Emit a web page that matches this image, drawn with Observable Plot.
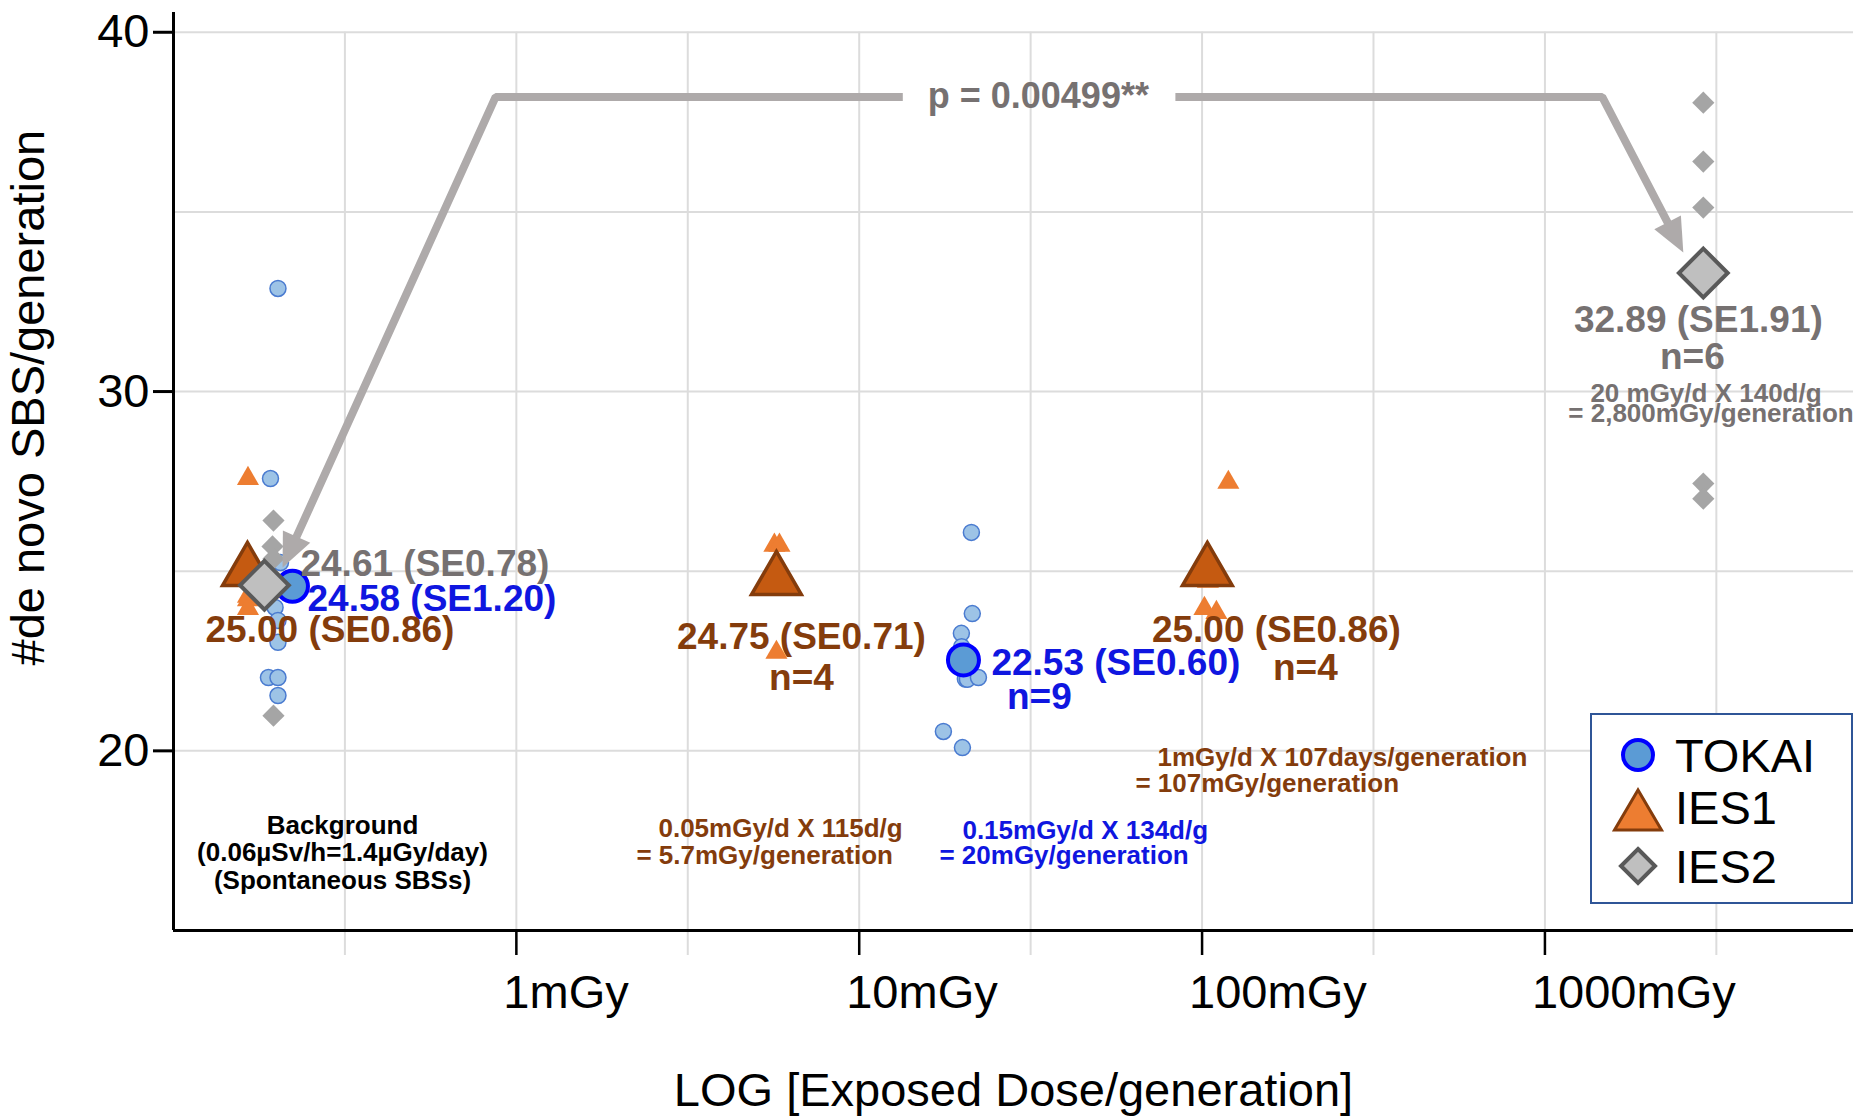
<!DOCTYPE html>
<html>
<head>
<meta charset="utf-8">
<script src="https://cdn.jsdelivr.net/npm/d3@7"></script>
<script src="https://cdn.jsdelivr.net/npm/@observablehq/plot@0.6"></script>
<style>
  html, body { margin: 0; padding: 0; background: #fff; }
  #wrap { position: relative; width: 1865px; height: 1117px; font-family: "Liberation Sans", Arial, sans-serif; }
  #legend { position: absolute; left: 1590px; top: 713px; width: 259px; height: 187px; border: 2px solid #2f5597; background: #fff; }
  #legend svg { display: block; }
</style>
</head>
<body>
<div id="wrap"></div>
<script>
// ---------------- data ----------------
// TOKAI individual lines (dose mGy/generation, SBS/generation)
const tokaiX = [0.2017, 0.1918, 0.2051, 0.1978, 0.2017, 0.2017, 0.1892, 0.2017, 0.2017,
                21.24, 21.37, 19.86, 19.9, 20.4, 20.68, 22.27, 17.60, 20.0];
const tokaiY = [32.87, 27.58, 25.24, 23.99, 23.63, 23.02, 22.04, 22.04, 21.54,
                26.08, 23.82, 23.27, 22.9, 22.0, 21.99, 22.04, 20.54, 20.09];
// IES1 individual lines
const ies1X = [0.1649, 0.1649, 0.1649, 0.1649, 5.657, 5.852, 5.735, 5.735, 119.3, 101.6, 110.1, 104];
const ies1Y = [27.58, 24.3, 24.2, 23.96, 25.72, 25.72, 24.8, 22.74, 27.47, 23.96, 23.85, 24.72];
// IES2 individual lines
const ies2X = [0.1957, 0.1944, 0.1957, 0.1957, 2897, 2897, 2897, 2897, 2897, 2897];
const ies2Y = [26.41, 25.69, 25.35, 20.98, 38.04, 36.40, 35.12, 33.32, 27.44, 27.02];
// group means
const tokaiMeanX = [0.2223, 20.14];
const tokaiMeanY = [24.58, 22.53];
const ies1MeanX = [0.1643, 5.735, 103.6];
const ies1MeanY = [25.00, 24.75, 25.00];
const ies2MeanX = [0.1842, 2897];
const ies2MeanY = [24.61, 33.3];
// axes
const xTickValues = [1, 10, 100, 1000];
const xTickLabels = ["1mGy", "10mGy", "100mGy", "1000mGy"];
const xGrid = [0.3162, 1, 3.162, 10, 31.62, 100, 316.2, 1000, 3162];
const yTickValues = [20, 30, 40];
const yGrid = [20, 25, 30, 35, 40];
const pText = "p = 0.00499**";

// ---------------- layout ----------------
const W = 1865, H = 1117;
const X0 = 173, X1 = 1853, YB = 930, YT = 12;
const xDomain = [0.1, Math.pow(10, 3.9)];
const yDomain = [15, 40.55];
const sx = Plot.scale({x: {type: "log", domain: xDomain, range: [X0, X1]}});
const sy = Plot.scale({y: {type: "linear", domain: yDomain, range: [YB, YT]}});

const FONT = "Liberation Sans, Arial, Helvetica, sans-serif";
const GRAY = "#767171", BLUE = "#0f16e0", BROWN = "#843c0c", BLACK = "#000000";
const ARROW = "#aeaaaa";

const pts = (xs, ys) => xs.map((x, i) => ({x, y: ys[i]}));
const tokai = pts(tokaiX, tokaiY), ies1 = pts(ies1X, ies1Y), ies2 = pts(ies2X, ies2Y);
const tokaiMean = pts(tokaiMeanX, tokaiMeanY), ies1Mean = pts(ies1MeanX, ies1MeanY), ies2Mean = pts(ies2MeanX, ies2MeanY);

// annotation placement (data coordinates)
const bracketY = 38.2;
const leftTip = [0.208, 25.10], leftCorner = [0.87, bracketY], gapLeft = 13.4;
const gapRight = 83.6, rightCorner = [1469, bracketY], rightTip = [2533, 33.87];
const HEAD = 34;
function headInfo(from, tip, back) {
  const ax = sx.apply(from[0]), ay = sy.apply(from[1]);
  const bx = sx.apply(tip[0]), by = sy.apply(tip[1]);
  const L = Math.hypot(bx - ax, by - ay), ux = (bx - ax) / L, uy = (by - ay) / L;
  return {
    base: [sx.invert(bx - ux * back), sy.invert(by - uy * back)],
    angle: Math.atan2(ux, -uy) * 180 / Math.PI
  };
}
const hl = headInfo(leftCorner, leftTip, HEAD - 5);
const hr = headInfo(rightCorner, rightTip, HEAD - 5);
const leftPath = [hl.base, leftCorner, [gapLeft, bracketY]];
const rightPath = [[gapRight, bracketY], rightCorner, hr.base];
const heads = [{x: leftTip[0], y: leftTip[1], a: hl.angle}, {x: rightTip[0], y: rightTip[1], a: hr.angle}];

const bigStart = [
  {t: "24.61 (SE0.78)", x: 0.2346, y: 25.20, c: GRAY},
  {t: "24.58 (SE1.20)", x: 0.2459, y: 24.21, c: BLUE},
  {t: "25.00 (SE0.86)", x: 0.1240, y: 23.35, c: BROWN},
  {t: "22.53 (SE0.60)", x: 24.30, y: 22.43, c: BLUE}
];
const bigMiddle = [
  {t: "24.75 (SE0.71)", x: 6.783, y: 23.17, c: BROWN},
  {t: "n=4", x: 6.783, y: 22.01, c: BROWN},
  {t: "n=9", x: 33.54, y: 21.49, c: BLUE},
  {t: "25.00 (SE0.86)", x: 164.7, y: 23.35, c: BROWN},
  {t: "n=4", x: 200.1, y: 22.29, c: BROWN},
  {t: "32.89 (SE1.91)", x: 2802, y: 31.99, c: GRAY},
  {t: "n=6", x: 2691, y: 30.95, c: GRAY}
];
const noteStart = [
  {t: "0.05mGy/d X 115d/g", x: 2.597, y: 17.83, c: BROWN},
  {t: "= 5.7mGy/generation", x: 2.240, y: 17.09, c: BROWN},
  {t: "0.15mGy/d X 134d/g", x: 20.0, y: 17.78, c: BLUE},
  {t: "= 20mGy/generation", x: 17.14, y: 17.09, c: BLUE},
  {t: "1mGy/d X 107days/generation", x: 74.1, y: 19.82, c: BROWN},
  {t: "= 107mGy/generation", x: 63.9, y: 19.09, c: BROWN},
  {t: "20 mGy/d X 140d/g", x: 1357, y: 29.95, c: GRAY},
  {t: "= 2,800mGy/generation", x: 1170, y: 29.38, c: GRAY}
];
const noteMiddle = [
  {t: "Background", x: 0.3111, y: 17.92, c: BLACK},
  {t: "(0.06µSv/h=1.4µGy/day)", x: 0.3111, y: 17.17, c: BLACK},
  {t: "(Spontaneous SBSs)", x: 0.3111, y: 16.39, c: BLACK}
];

const yBelow = sy.invert(955);
const xLeftTick = sx.invert(153);

const chart = Plot.plot({
  width: W, height: H,
  marginLeft: X0, marginRight: W - X1, marginTop: YT, marginBottom: H - YB,
  style: {fontFamily: FONT, background: "#fff", overflow: "visible"},
  x: {type: "log", domain: xDomain, axis: null},
  y: {type: "linear", domain: yDomain, axis: null},
  color: {type: "identity"},
  marks: [
    // grid
    Plot.ruleY(yGrid, {stroke: "#dcdcdc", strokeWidth: 2}),
    Plot.ruleX(xGrid, {y1: yBelow, y2: 40, stroke: "#dcdcdc", strokeWidth: 2}),
    // axes
    Plot.ruleY([yDomain[0]], {stroke: "black", strokeWidth: 3}),
    Plot.ruleX([xDomain[0]], {y1: yDomain[0], y2: yDomain[1], stroke: "black", strokeWidth: 3}),
    Plot.ruleY(yTickValues, {x1: xLeftTick, x2: xDomain[0], stroke: "black", strokeWidth: 3}),
    Plot.ruleX(xTickValues, {y1: yBelow, y2: yDomain[0], stroke: "black", strokeWidth: 2.5}),
    Plot.text(yTickValues, {y: d => d, text: d => String(d), frameAnchor: "left", dx: -24, textAnchor: "end",
      lineAnchor: "middle", fontSize: 47, fill: "black", fontFamily: FONT}),
    Plot.text(xTickValues, {x: d => d, text: (d, i) => xTickLabels[i], frameAnchor: "bottom", dx: -13, dy: 62,
      textAnchor: "start", lineAnchor: "middle", fontSize: 47, fill: "black", fontFamily: FONT}),
    Plot.text(["LOG [Exposed Dose/generation]"], {frameAnchor: "bottom", dy: 160, lineAnchor: "middle",
      textAnchor: "middle", fontSize: 47, fill: "black", fontFamily: FONT}),
    Plot.text([{t: "#de novo SBS/generation", y: 29.83}], {y: "y", text: "t", frameAnchor: "left", dx: -145,
      rotate: -90, textAnchor: "middle", lineAnchor: "middle", fontSize: 47, fill: "black", fontFamily: FONT}),
    // individual points
    Plot.dot(tokai, {x: "x", y: "y", r: 8, symbol: "circle", fill: "#9dc3e6", stroke: "#4a7bd0", strokeWidth: 1.5}),
    Plot.dot(ies1, {x: "x", y: "y", r: 8.2, symbol: "triangle", fill: "#ed7d31", stroke: "none"}),
    Plot.dot(ies2, {x: "x", y: "y", r: 10, symbol: "diamond2", fill: "#a5a5a5", stroke: "none"}),
    // means
    Plot.dot(tokaiMean, {x: "x", y: "y", r: 15.5, symbol: "circle", fill: "#5b9bd5", stroke: "#0000ff", strokeWidth: 4}),
    Plot.dot(ies1Mean, {x: "x", y: "y", r: 18.5, symbol: "triangle", fill: "#c55a11", stroke: "#843c0c", strokeWidth: 3.5, strokeLinejoin: "miter"}),
    Plot.dot(ies2Mean, {x: "x", y: "y", r: 22, symbol: "diamond2", fill: "#bfbfbf", stroke: "#595959", strokeWidth: 4, strokeLinejoin: "miter"}),
    // significance bracket
    Plot.line(leftPath, {x: d => d[0], y: d => d[1], stroke: ARROW, strokeWidth: 8, strokeLinejoin: "miter", strokeLinecap: "butt"}),
    Plot.line(rightPath, {x: d => d[0], y: d => d[1], stroke: ARROW, strokeWidth: 8, strokeLinejoin: "miter", strokeLinecap: "butt"}),
    Plot.vector(heads, {x: "x", y: "y", rotate: "a", length: HEAD, r: 15, shape: "spike", anchor: "end", fill: ARROW, stroke: "none"}),
    Plot.text([{t: pText, x: 33.3, y: bracketY}], {x: "x", y: "y", text: "t", fontSize: 36, fontWeight: "bold",
      fill: GRAY, lineAnchor: "middle", fontFamily: FONT}),
    // labels
    Plot.text(bigStart, {x: "x", y: "y", text: "t", fill: "c", textAnchor: "start", lineAnchor: "middle",
      fontSize: 37, fontWeight: "bold", fontFamily: FONT}),
    Plot.text(bigMiddle, {x: "x", y: "y", text: "t", fill: "c", textAnchor: "middle", lineAnchor: "middle",
      fontSize: 37, fontWeight: "bold", fontFamily: FONT}),
    Plot.text(noteStart, {x: "x", y: "y", text: "t", fill: "c", textAnchor: "start", lineAnchor: "middle",
      fontSize: 26, fontWeight: "bold", fontFamily: FONT}),
    Plot.text(noteMiddle, {x: "x", y: "y", text: "t", fill: "c", textAnchor: "middle", lineAnchor: "middle",
      fontSize: 26, fontWeight: "bold", fontFamily: FONT})
  ]
});

const wrap = document.getElementById("wrap");
wrap.appendChild(chart);

// legend
const legend = document.createElement("div");
legend.id = "legend";
const legendItems = ["TOKAI", "IES1", "IES2"];
legend.innerHTML = `
<svg width="259" height="187" xmlns="http://www.w3.org/2000/svg" style="font-family:${FONT}">
  <circle cx="46" cy="40" r="15" fill="#5b9bd5" stroke="#0000ff" stroke-width="4"/>
  <polygon points="46,75 22.5,115 69.5,115" fill="#ed7d31" stroke="#843c0c" stroke-width="3" stroke-linejoin="miter"/>
  <polygon points="46,134 63,151 46,168 29,151" fill="#bfbfbf" stroke="#595959" stroke-width="4" stroke-linejoin="miter"/>
  <text x="83" y="57" font-size="47" fill="#000">${legendItems[0]}</text>
  <text x="83" y="109" font-size="47" fill="#000">${legendItems[1]}</text>
  <text x="83" y="168" font-size="47" fill="#000">${legendItems[2]}</text>
</svg>`;
wrap.appendChild(legend);
</script>
</body>
</html>
